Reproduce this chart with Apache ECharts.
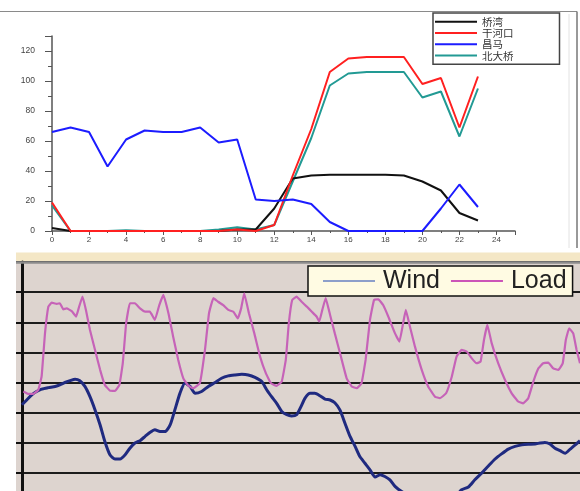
<!DOCTYPE html>
<html>
<head>
<meta charset="utf-8">
<script src="https://cdn.jsdelivr.net/npm/echarts@6/dist/echarts.min.js"></script>
<style>
  html, body { margin: 0; padding: 0; background: #fff; }
  #main { width: 580px; height: 491px; }
</style>
</head>
<body>
<div id="main"></div>
<script>
// 上图：四个风电场逐时出力
const hours = [0, 1, 2, 3, 4, 5, 6, 7, 8, 9, 10, 11, 12, 13, 14, 15, 16, 17, 18, 19, 20, 21, 22, 23]
const qiaowan = [2, 0, 0, 0, 0, 0, 0, 0, 0, 0, 1, 1, 15, 35, 37, 37.5, 37.5, 37.5, 37.5, 37, 33, 27, 12, 7]
const ganhekou = [19, 0, 0, 0, 0, 0, 0, 0, 0, 0, 1, 0, 4, 37, 68, 106, 115, 116, 116, 116, 98, 102, 69, 103]
const changma = [66, 69, 66, 43, 61, 67, 66, 66, 69, 59, 61, 21, 20, 21, 18, 6, 0, 0, 0, 0, 0, 15, 31, 16]
const beidaqiao = [17, 0, 0, 0, 0.5, 0, 0, 0, 0, 1, 2.5, 1, 4, 33, 62, 97, 105, 106, 106, 106, 89, 93, 63, 95]
const topNames = ['桥湾', '干河口', '昌马', '北大桥']

// 下图：Wind / Load
const loadHours = [0.4, 1.9, 3.3, 4.8, 5.8, 6.8, 7.8, 8.8, 10.3, 11.2, 12.2, 13.2, 14.7, 16.0, 16.9, 17.9, 18.9, 20.1, 21.6, 23.1,
    24.5, 26.0, 27.5, 28.8, 29.8, 30.8, 31.9, 33.4, 34.9, 36.4, 37.8, 39.3, 40.6, 41.8, 43.3, 44.7, 46.2, 47.7, 49.2, 50.7,
    52.6, 54.1, 55.3, 56.6, 58.0, 59.5, 61.0, 62.5, 63.8, 64.8, 65.7, 67.1, 68.7, 70.4, 72.1, 73.6, 75.3, 76.8, 78.0, 78.9,
    79.9, 81.2, 82.7, 84.2, 85.7, 87.1, 87.9, 88.8, 89.8, 91.1, 92.5, 94.3, 96.0, 97.5, 99.0, 100.4, 101.6, 102.9, 104.1, 105.4,
    106.8, 108.3, 110.3, 111.6, 112.7, 113.5, 114.7, 116.2, 118.2, 120.1, 122.1, 123.6, 125.4, 127.1, 128.5, 130.0, 131.5, 133.0, 134.4, 135.6,
    136.6, 137.6, 138.9, 140.8, 142.8, 144.8, 146.7, 148.2, 149.7, 151.2, 152.7, 154.1, 155.6, 157.1, 158.6, 159.9, 160.8, 161.8, 163.0, 164.0, 165.0]
const loadValues = [370, 362, 362, 375, 420, 563, 652, 665, 661, 663, 643, 646, 637, 619, 652, 685, 641, 574, 508, 442,
    392, 373, 372, 392, 464, 597, 663, 663, 646, 635, 635, 608, 657, 691, 630, 552, 475, 414, 389, 381,
    398, 508, 630, 680, 668, 657, 641, 635, 613, 646, 696, 630, 563, 486, 431, 398, 389, 403, 475, 597,
    674, 685, 668, 652, 635, 619, 602, 641, 680, 624, 563, 486, 414, 387, 381, 398, 475, 608, 674, 676,
    657, 619, 563, 536, 597, 641, 586, 519, 442, 387, 353, 348, 364, 420, 486, 508, 503, 480, 464, 469,
    541, 591, 530, 464, 409, 364, 337, 331, 348, 403, 447, 464, 466, 447, 442, 464, 541, 580, 563, 508, 464]
const windHours = [0, 1.4, 2.9, 4.3, 5.8, 7.8, 9.8, 11.2, 12.7, 14.2, 15.7, 17.1, 18.6, 20.1, 21.6, 23.1, 24.5, 26.0, 27.5, 29.0,
    30.5, 31.9, 33.4, 34.9, 36.4, 37.8, 39.3, 40.8, 42.3, 43.8, 45.2, 46.7, 48.2, 49.7, 51.2, 53.1, 55.1, 57.1, 59.0, 61.0,
    63.0, 65.0, 66.9, 68.9, 70.9, 72.4, 73.8, 75.3, 76.8, 78.3, 79.7, 81.2, 82.5, 83.7, 85.2, 86.6, 88.1, 89.6, 91.1, 92.5,
    94.0, 95.5, 97.0, 98.5, 99.9, 101.4, 102.9, 104.4, 105.9, 107.3, 108.8, 110.3, 112.3, 115, 120, 125, 128, 130.0, 132.0, 133.9,
    135.9, 137.9, 139.9, 141.8, 143.8, 145.8, 147.8, 149.7, 151.7, 153.2, 154.6, 156.1, 157.6, 159.1, 160.6, 162.1, 163.6, 165.0]
const windValues = [326, 342, 359, 370, 378, 383, 387, 392, 400, 406, 411, 406, 387, 353, 309, 259, 204, 160, 146, 146,
    160, 182, 199, 207, 221, 234, 243, 237, 237, 259, 309, 364, 398, 387, 364, 370, 387, 400, 414, 422,
    425, 427, 425, 417, 403, 375, 353, 331, 304, 293, 289, 293, 320, 348, 364, 364, 356, 345, 342, 333,
    309, 265, 221, 188, 154, 132, 110, 86, 94, 88, 77, 55, 38, 25, 15, 12, 20, 44, 53, 77,
    99, 123, 146, 163, 179, 188, 193, 195, 196, 199, 201, 196, 182, 174, 165, 179, 193, 207]

const chart = echarts.init(document.getElementById('main'))

const topColors = ['#111111', '#ff2020', '#1c1cff', '#229a94']
const topData = [qiaowan, ganhekou, changma, beidaqiao]

const pair = (xs, ys) => xs.map((x, i) => [x, ys[i]])

const topSeries = topData.map((arr, i) => {
    return {
        name: topNames[i],
        type: 'line',
        xAxisIndex: 0,
        yAxisIndex: 0,
        symbol: 'none',
        data: pair(hours, arr),
        lineStyle: { color: topColors[i], width: 2 },
        itemStyle: { color: topColors[i] },
        z: 3 + (i === 3 ? 0 : 1)
    }
})

const option = {
    animation: false,
    grid: [
        { left: 52, top: 36, width: 463, height: 195, outerBoundsMode: 'none' },
        // 下图网格下边超出画面
        { left: 22, top: 262, width: 558, height: 241, outerBoundsMode: 'none' }
    ],
    xAxis: [
        {
            type: 'value', gridIndex: 0, min: 0, max: 25, interval: 2,
            axisLine: { lineStyle: { color: '#555', width: 1.5 } },
            axisTick: { length: 4, lineStyle: { color: '#555' } },
            minorTick: { show: true, splitNumber: 2, length: 2, lineStyle: { color: '#555' } },
            axisLabel: {
                margin: 5, fontSize: 8, color: '#444', fontFamily: 'Liberation Sans',
                formatter: v => (v % 2 === 0 ? String(v) : '')
            },
            splitLine: { show: false }
        },
        {
            type: 'value', gridIndex: 1, min: 0, max: 165, show: false
        }
    ],
    yAxis: [
        {
            type: 'value', gridIndex: 0, min: 0, max: 130, interval: 20,
            axisLine: { show: true, lineStyle: { color: '#555', width: 1.5 } },
            axisTick: { show: true, length: 7, lineStyle: { color: '#555' } },
            minorTick: { show: true, splitNumber: 2, length: 4, lineStyle: { color: '#555' } },
            axisLabel: { margin: 17, fontSize: 8.5, color: '#444', fontFamily: 'Liberation Sans', showMaxLabel: false },
            splitLine: { show: false }
        },
        {
            type: 'value', gridIndex: 1, min: 0, max: 800, interval: 100,
            axisLine: { show: true, lineStyle: { color: '#111', width: 3 } },
            axisTick: { show: true, length: 6, lineStyle: { color: '#111', width: 2 } },
            axisLabel: { show: false },
            splitLine: { show: true, lineStyle: { color: '#1c1c1c', width: 2 } }
        }
    ],
    legend: [
        {
            data: topNames,
            orient: 'vertical',
            left: 433,
            top: 13,
            icon: 'rect',
            itemWidth: 42,
            itemHeight: 2,
            itemGap: 0,
            padding: [3, 46, 3, 2],
            borderColor: '#444',
            borderWidth: 1.5,
            backgroundColor: '#fff',
            textStyle: { fontSize: 10.5, lineHeight: 11.3, color: '#333', fontFamily: 'Noto Sans CJK SC' }
        },
        {
            data: [
                { name: 'Wind', itemStyle: { color: '#8d9fca' } },
                { name: 'Load', itemStyle: { color: '#cc55b8' } }
            ],
            orient: 'horizontal',
            left: 308,
            top: 266,
            icon: 'rect',
            itemWidth: 52,
            itemHeight: 2,
            itemGap: 11,
            padding: [2, 6, 2, 15],
            borderColor: '#111',
            borderWidth: 1.5,
            backgroundColor: '#fffbe3',
            textStyle: { fontSize: 25, lineHeight: 26, color: '#222', fontFamily: 'Liberation Sans', padding: [0, 0, 0, 3] }
        }
    ],
    graphic: [
        // 上图外框
        { type: 'line', z: -5, shape: { x1: 0, y1: 11.5, x2: 577, y2: 11.5 }, style: { stroke: '#8a8a8a', lineWidth: 1.2 } },
        { type: 'line', z: -5, shape: { x1: 577, y1: 11.5, x2: 577, y2: 248 }, style: { stroke: '#777', lineWidth: 1.5 } },
        { type: 'line', z: -5, shape: { x1: 569, y1: 14, x2: 569, y2: 248 }, style: { stroke: '#e2e2e2', lineWidth: 1 } },
        // 下图背景
        { type: 'rect', z: -10, shape: { x: 16, y: 252.5, width: 564, height: 10 }, style: { fill: '#f4e7c6' } },
        { type: 'rect', z: -10, shape: { x: 16, y: 262, width: 564, height: 229 }, style: { fill: '#ddd4cf' } },
        { type: 'line', z: 10, shape: { x1: 16, y1: 262.5, x2: 580, y2: 262.5 }, style: { stroke: '#8c8c8c', lineWidth: 2.5 } }
    ],
    series: topSeries.concat([
        {
            name: 'Wind',
            type: 'line',
            xAxisIndex: 1,
            yAxisIndex: 1,
            symbol: 'none',
            smooth: 0.2,
            data: pair(windHours, windValues),
            lineStyle: { color: '#1f2a80', width: 3 },
            itemStyle: { color: '#8d9fca' }
        },
        {
            name: 'Load',
            type: 'line',
            xAxisIndex: 1,
            yAxisIndex: 1,
            symbol: 'none',
            smooth: 0.1,
            data: pair(loadHours, loadValues),
            lineStyle: { color: '#c663b8', width: 2.2 },
            itemStyle: { color: '#cc55b8' }
        }
    ])
}

chart.setOption(option)
</script>
</body>
</html>
